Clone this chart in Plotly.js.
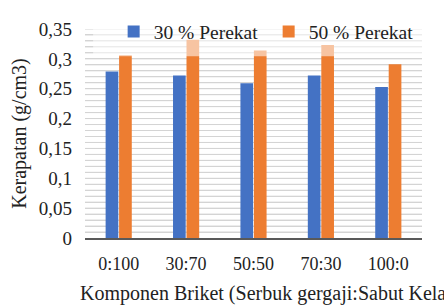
<!DOCTYPE html>
<html>
<head>
<meta charset="utf-8">
<script src="https://cdn.plot.ly/plotly-3.0.1.min.js"></script>
<style>html,body{margin:0;padding:0;background:#fff;}#chart{width:444px;height:308px;}</style>
</head>
<body>
<div id="chart"></div>
<script>
var categories = ["0:100", "30:70", "50:50", "70:30", "100:0"];
var perekat30 = [0.279, 0.272, 0.259, 0.272, 0.253];
var perekat50 = [0.306, 0.332, 0.314, 0.323, 0.291];
var seriesNames = ["30 % Perekat", "50 % Perekat"];
var yTicks = [0, 0.05, 0.1, 0.15, 0.2, 0.25, 0.3, 0.35];
var yTickLabels = ["0", "0,05", "0,1", "0,15", "0,2", "0,25", "0,3", "0,35"];
var xTitle = "Komponen Briket (Serbuk gergaji:Sabut Kelapa)";
var yTitle = "Kerapatan (g/cm3)";

var FONT = "Liberation Serif, Times New Roman, serif";
var GRID = "#D4D4D4";
var traces = [
  {type: "bar", name: seriesNames[0], x: categories, y: perekat30, marker: {color: "#4472C4"}},
  {type: "bar", name: seriesNames[1], x: categories, y: perekat50, marker: {color: "#ED7D31"}}
];
// light horizontal gridlines every 0.01 on the y scale
var shapes = [];
for (var i = 1; i <= 35; i++) {
  shapes.push({type: "line", xref: "paper", yref: "y", layer: "below",
    x0: 0, x1: 1, y0: i / 100, y1: i / 100, line: {color: GRID, width: 1}});
}
shapes.push({type: "rect", xref: "paper", yref: "paper", layer: "above",
  x0: 0.024, x1: 1.003, y0: 0.87, y1: 1.046, line: {width: 0}, fillcolor: "rgba(255,255,255,0.55)"});
var layout = {
  width: 444, height: 308,
  margin: {l: 85, r: 22, t: 22, b: 70},
  paper_bgcolor: "#fff", plot_bgcolor: "#fff",
  barmode: "group", bargap: 0.6, bargroupgap: 0.06,
  font: {family: FONT, color: "#222", size: 19},
  showlegend: true,
  legend: {orientation: "h", x: 0.085, y: 1.08, xanchor: "left", yanchor: "top",
    bgcolor: "rgba(0,0,0,0)", font: {family: FONT, size: 19.5, color: "#222"},
    entrywidth: 110, entrywidthmode: "pixels", itemclick: false},
  xaxis: {type: "category", showgrid: false, showline: true, linecolor: "#595959", linewidth: 2,
    ticks: "", tickfont: {family: FONT, size: 18}, ticklabelstandoff: 8, fixedrange: true},
  yaxis: {range: [yTicks[0], yTicks[yTicks.length - 1]], tickmode: "array",
    tickvals: yTicks, ticktext: yTickLabels, showgrid: true, gridcolor: GRID, gridwidth: 1,
    minor: {tickmode: "linear", tick0: 0, dtick: 0.01, showgrid: true, gridcolor: GRID, gridwidth: 1},
    zeroline: false, showline: false, ticks: "", tickfont: {family: FONT, size: 19},
    ticklabelstandoff: 12,
    title: {text: yTitle, font: {family: FONT, size: 20}, standoff: 6}, fixedrange: true},
  shapes: shapes,
  annotations: [{text: xTitle, xref: "paper", yref: "paper", x: -0.022, y: -0.2,
    xanchor: "left", yanchor: "top", showarrow: false, font: {family: FONT, size: 20, color: "#222"}}]
};
Plotly.newPlot("chart", traces, layout, {displayModeBar: false, staticPlot: true});
</script>
</body>
</html>
